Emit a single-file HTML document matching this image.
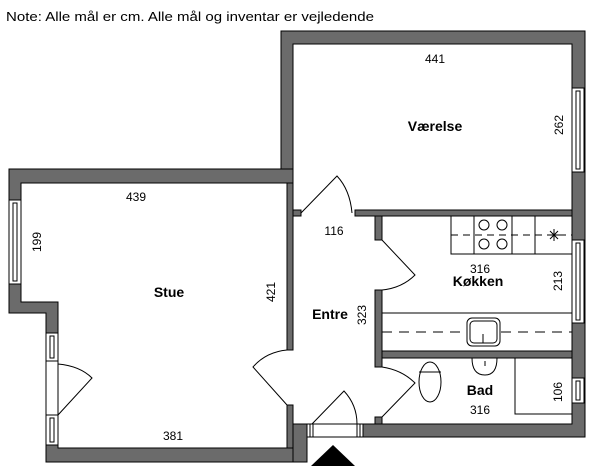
<!DOCTYPE html>
<html><head><meta charset="utf-8"><style>
body{margin:0;background:#fff}
svg{display:block}
text{font-family:"Liberation Sans",sans-serif;fill:#000}
</style></head><body>
<svg width="600" height="472" viewBox="0 0 600 472" xmlns="http://www.w3.org/2000/svg">
<text x="6" y="21" font-size="13" textLength="368" lengthAdjust="spacingAndGlyphs">Note: Alle mål er cm. Alle mål og inventar er vejledende</text>
<g fill="#6b6b6b" stroke="#000" stroke-width="1">
<path d="M281,31 H585 V437 H363 V424 H572 V44 H293 V183 H281 Z"/>
<path d="M9,169 H293 V183 H21 V302 H58 V448 H293 V462 H46 V313 H9 Z"/>
<rect x="287" y="183" width="6" height="167"/>
<rect x="287" y="405" width="6" height="43"/>
<rect x="293" y="424" width="14" height="38"/>
<rect x="293" y="210" width="8" height="6"/>
<rect x="355" y="210" width="217" height="6"/>
<rect x="375" y="216" width="7" height="24"/>
<rect x="375" y="290" width="7" height="77"/>
<rect x="375" y="417" width="7" height="7"/>
<rect x="382" y="351" width="190" height="7"/>
</g>
<g fill="#fff" stroke="#000" stroke-width="1">
<rect x="9" y="200" width="12" height="84"/><rect x="13" y="203" width="4" height="78"/>
<rect x="572" y="88" width="12" height="84"/><rect x="576" y="91" width="4" height="78"/>
<rect x="572" y="240" width="12" height="83"/><rect x="576" y="243" width="4" height="77"/>
<rect x="572" y="378" width="12" height="25"/><rect x="576" y="381" width="4" height="19"/>
<rect x="46" y="333" width="12" height="28"/><rect x="50" y="336" width="4" height="22"/>
<rect x="46" y="415" width="12" height="30"/><rect x="50" y="418" width="4" height="24"/>
<rect x="46" y="361" width="12" height="54"/>
<rect x="307" y="424" width="56" height="13"/>
<rect x="310" y="424" width="3" height="13"/><rect x="357" y="424" width="3" height="13"/>
</g>
<g fill="none" stroke="#000" stroke-width="1">
<path d="M58,364 Q80,366 92,378 L58,415"/>
<path d="M287,350 Q266,352 253,367 L287,405"/>
<path d="M301,213 L337,176 Q350,190 352,213"/>
<path d="M382,240 L415,275 Q402,288 382,290"/>
<path d="M382,367 Q402,370 415,383 L382,417"/>
<path d="M312,424 L344,391 Q357,405 357,424"/>
</g>
<g fill="none" stroke="#000" stroke-width="1">
<rect x="451" y="216" width="121" height="38"/>
<line x1="474" y1="216" x2="474" y2="254"/><line x1="512" y1="216" x2="512" y2="254"/><line x1="535" y1="216" x2="535" y2="254"/>
<line x1="451" y1="235" x2="572" y2="235" stroke-dasharray="7,5"/>
<circle cx="484" cy="225" r="5"/><circle cx="502" cy="225" r="5"/>
<circle cx="484" cy="244" r="5"/><circle cx="502" cy="244" r="5"/>
<path d="M548,235 h12 M554,229 v12 M550,231 l8,8 M558,231 l-8,8"/>
<line x1="382" y1="313" x2="572" y2="313"/>
<line x1="382" y1="332" x2="572" y2="332" stroke-dasharray="10,7"/>
<rect x="467" y="318" width="33" height="28" rx="5" fill="#fff"/>
<rect x="470" y="321" width="27" height="22" rx="4"/>
<line x1="483" y1="334" x2="483" y2="343"/>
<rect x="515" y="358" width="57" height="56"/>
<ellipse cx="430" cy="382" rx="11" ry="20"/>
<line x1="419" y1="372" x2="441" y2="372"/>
<path d="M472,358 Q472,375 485,375 Q497,375 497,358"/>
<line x1="485" y1="361" x2="485" y2="366"/>
</g>
<polygon points="311,466 333,445 355,466" fill="#000"/>
<g font-size="12">
<text x="136" y="201" text-anchor="middle">439</text>
<text x="435" y="63" text-anchor="middle">441</text>
<text x="173" y="440" text-anchor="middle">381</text>
<text x="334" y="235" text-anchor="middle">116</text>
<text x="480" y="273" text-anchor="middle">316</text>
<text x="480" y="414" text-anchor="middle">316</text>
<text transform="translate(41,242) rotate(-90)" text-anchor="middle">199</text>
<text transform="translate(275,292) rotate(-90)" text-anchor="middle">421</text>
<text transform="translate(366,315) rotate(-90)" text-anchor="middle">323</text>
<text transform="translate(563,125) rotate(-90)" text-anchor="middle">262</text>
<text transform="translate(562,281) rotate(-90)" text-anchor="middle">213</text>
<text transform="translate(562,392) rotate(-90)" text-anchor="middle">106</text>
</g>
<g font-size="14" font-weight="bold">
<text x="169" y="297" text-anchor="middle">Stue</text>
<text x="435" y="131" text-anchor="middle">Værelse</text>
<text x="478" y="286" text-anchor="middle">Køkken</text>
<text x="330" y="319" text-anchor="middle">Entre</text>
<text x="480" y="395" text-anchor="middle">Bad</text>
</g>
</svg>
</body></html>
